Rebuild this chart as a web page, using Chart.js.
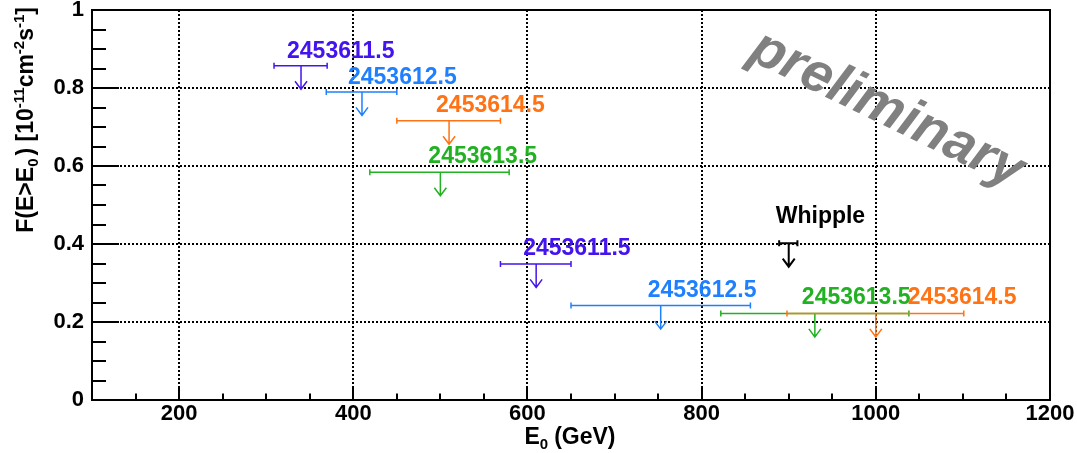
<!DOCTYPE html>
<html>
<head>
<meta charset="utf-8">
<script src="https://cdn.jsdelivr.net/npm/chart.js@4.4.1/dist/chart.umd.min.js"></script>
<style>
  html, body { margin: 0; padding: 0; background: #fff; }
  #wrap { width: 1077px; height: 453px; position: relative; }
</style>
</head>
<body>
<div id="wrap"><canvas id="myChart"></canvas></div>
<script>
// Upper limits (E0 in GeV, flux in 1e-11 cm-2 s-1)
const pointLabels = ['2453611.5', '2453612.5', '2453614.5', '2453613.5',
                     '2453611.5', '2453612.5', '2453613.5', '2453614.5', 'Whipple'];
const energy     = [340, 410, 510, 500, 610, 753, 930, 1000, 900];
const energyLow  = [309, 369, 450, 419, 569, 650, 822, 898, 889];
const energyHigh = [370, 450, 569, 579, 650, 856, 1038, 1101, 910];
const fluxLimit  = [0.857, 0.790, 0.716, 0.584, 0.349, 0.242, 0.222, 0.222, 0.402];

// tick labels
const xTickValues = [200, 400, 600, 800, 1000, 1200];
const xTickLabels = ['200', '400', '600', '800', '1000', '1200'];
const yTickValues = [0, 0.2, 0.4, 0.6, 0.8, 1];
const yTickLabels = ['0', '0.2', '0.4', '0.6', '0.8', '1'];

// styles (colours per night, label offsets in px from the arrow / bar)
const nightColors = {
    '2453611.5': '#4414ee',
    '2453612.5': '#1f80ff',
    '2453613.5': '#22b122',
    '2453614.5': '#ff7314',
    'Whipple': '#000000'
};
const labelDx = [-14, -14, -13, -12, -13, -13, -13, 32, -13];
const labelDy = [-8, -8, -9, -9.5, -8.5, -9, -9, -9, -20.5];

const FONT = '"Liberation Sans", Arial, Helvetica, sans-serif';

function isMultiple(v, step) {
    return Math.abs(v / step - Math.round(v / step)) < 1e-6;
}
function findLabel(values, labels, v) {
    for (let i = 0; i < values.length; i++) {
        if (Math.abs(values[i] - v) < 1e-6) return labels[i];
    }
    return '';
}

// draw a sequence of text runs [text, size, shift, gap] from (0,0), return width
function drawRuns(ctx, runs, measureOnly) {
    let x = 0;
    runs.forEach(r => {
        ctx.font = 'bold ' + r[1] + 'px ' + FONT;
        if (!measureOnly) ctx.fillText(r[0], x, r[2]);
        x += ctx.measureText(r[0]).width + (r[3] || 0);
    });
    return x;
}

const datasets = pointLabels.map((lab, i) => ({
    label: lab,
    data: [{ x: energy[i], y: fluxLimit[i], xMin: energyLow[i], xMax: energyHigh[i] }],
    pointRadius: 0,
    borderColor: nightColors[lab],
    backgroundColor: nightColors[lab]
}));

const rootStyle = {
    id: 'rootStyle',
    beforeDatasetsDraw(chart) {
        const ctx = chart.ctx;
        // watermark
        ctx.save();
        ctx.translate(887, 110);
        ctx.rotate(26 * Math.PI / 180);
        ctx.font = 'italic bold 55px ' + FONT;
        ctx.fillStyle = '#808080';
        ctx.textAlign = 'center';
        ctx.textBaseline = 'middle';
        ctx.fillText('preliminary', 0, 0);
        ctx.restore();
    },
    afterDatasetsDraw(chart) {
        const ctx = chart.ctx;
        const xs = chart.scales.x;
        chart.data.datasets.forEach((ds, i) => {
            const meta = chart.getDatasetMeta(i);
            const col = ds.borderColor;
            const lw = ds.label === 'Whipple' ? 2 : 1.5;
            meta.data.forEach((pt, j) => {
                const d = ds.data[j];
                const px = pt.x, py = pt.y;
                const x1 = xs.getPixelForValue(d.xMin);
                const x2 = xs.getPixelForValue(d.xMax);
                ctx.save();
                ctx.strokeStyle = col;
                ctx.lineWidth = lw;
                ctx.beginPath();
                // horizontal range with end caps
                ctx.moveTo(x1, py); ctx.lineTo(x2, py);
                ctx.moveTo(x1, py - 3); ctx.lineTo(x1, py + 3);
                ctx.moveTo(x2, py - 3); ctx.lineTo(x2, py + 3);
                // arrow down
                ctx.moveTo(px, py); ctx.lineTo(px, py + 23.5);
                ctx.moveTo(px - 6, py + 15.5); ctx.lineTo(px, py + 23.5); ctx.lineTo(px + 6, py + 15.5);
                ctx.stroke();
                // label
                ctx.fillStyle = col;
                ctx.font = 'bold 23px ' + FONT;
                ctx.textAlign = 'left';
                ctx.textBaseline = 'alphabetic';
                ctx.fillText(ds.label, px + labelDx[i], py + labelDy[i]);
                ctx.restore();
            });
        });
    },
    afterDraw(chart) {
        const ctx = chart.ctx;
        const a = chart.chartArea;
        const xs = chart.scales.x, ys = chart.scales.y;
        ctx.save();
        ctx.strokeStyle = '#000';
        ctx.lineWidth = 2;
        ctx.beginPath();
        // ticks inside the frame
        ys.ticks.forEach(t => {
            const y = Math.round(ys.getPixelForValue(t.value));
            const len = isMultiple(t.value, 0.2) ? 27 : 14;
            ctx.moveTo(a.left, y); ctx.lineTo(a.left + len, y);
        });
        xs.ticks.forEach(t => {
            const x = Math.round(xs.getPixelForValue(t.value));
            const len = isMultiple(t.value, 200) ? 12.5 : 6.5;
            ctx.moveTo(x, a.bottom); ctx.lineTo(x, a.bottom - len);
        });
        ctx.stroke();
        ctx.strokeRect(Math.round(a.left), Math.round(a.top), Math.round(a.right - a.left), Math.round(a.bottom - a.top));

        // axis titles
        ctx.fillStyle = '#000';
        ctx.textAlign = 'left';
        ctx.textBaseline = 'alphabetic';
        const xTitle = [['E', 23, 0], ['0', 15, 5, 6], ['(GeV)', 23, 0]];
        const wX = drawRuns(ctx, xTitle, true);
        ctx.save();
        ctx.translate(570 - wX / 2, 443.5);
        drawRuns(ctx, xTitle, false);
        ctx.restore();

        const yTitle = [['F(E>E', 23, 0], ['0', 15, 5, 3], [') [10', 23, 0], ['-11', 15, -9],
                        ['cm', 23, 0], ['-2', 15, -9], ['s', 23, 0], ['-1', 15, -9], [']', 23, 0]];
        const wY = drawRuns(ctx, yTitle, true);
        ctx.save();
        ctx.translate(33, 7 + wY);
        ctx.rotate(-Math.PI / 2);
        drawRuns(ctx, yTitle, false);
        ctx.restore();
        ctx.restore();
    }
};

const ctx = document.getElementById('myChart').getContext('2d');
const myChart = new Chart(ctx, {
    type: 'scatter',
    data: { datasets: datasets },
    options: {
        responsive: true,
        maintainAspectRatio: false,
        animation: false,
        layout: { padding: { left: 0, top: 10, right: 27, bottom: 0 } },
        plugins: { legend: { display: false }, tooltip: { enabled: false } },
        scales: {
            x: {
                type: 'linear',
                min: 100,
                max: 1200,
                afterFit(scale) { scale.height = 53; scale.paddingLeft = 0; scale.paddingRight = 0; },
                ticks: {
                    stepSize: 50,
                    autoSkip: false,
                    maxRotation: 0,
                    padding: 1,
                    color: '#000',
                    font: { family: FONT, size: 22, weight: 'bold' },
                    callback: v => findLabel(xTickValues, xTickLabels, v)
                },
                grid: {
                    drawTicks: false,
                    lineWidth: 2,
                    color: c => (c.tick && isMultiple(c.tick.value, 200)) ? '#000' : 'rgba(0,0,0,0)'
                },
                border: { display: false, dash: [2, 2] }
            },
            y: {
                type: 'linear',
                min: 0,
                max: 1,
                afterFit(scale) { scale.width = 92; scale.paddingTop = 0; scale.paddingBottom = 0; },
                ticks: {
                    stepSize: 0.05,
                    autoSkip: false,
                    padding: 8,
                    color: '#000',
                    font: { family: FONT, size: 22, weight: 'bold' },
                    callback: v => findLabel(yTickValues, yTickLabels, v)
                },
                grid: {
                    drawTicks: false,
                    lineWidth: 2,
                    color: c => (c.tick && isMultiple(c.tick.value, 0.2)) ? '#000' : 'rgba(0,0,0,0)'
                },
                border: { display: false, dash: [2, 2] }
            }
        }
    },
    plugins: [rootStyle]
});
</script>
</body>
</html>
